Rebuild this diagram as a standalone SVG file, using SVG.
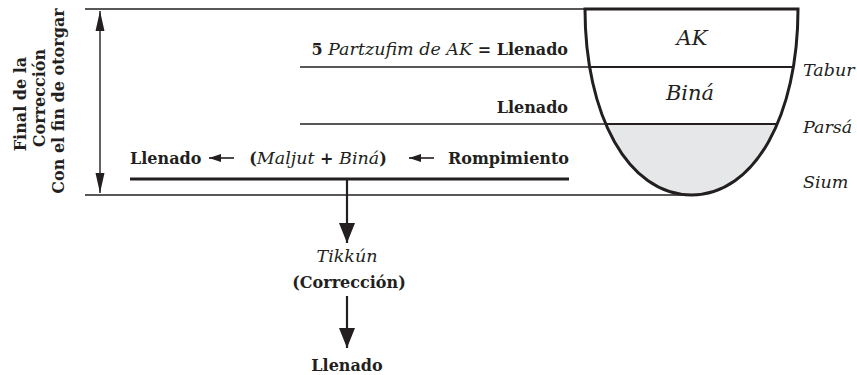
<svg xmlns="http://www.w3.org/2000/svg" width="857" height="375" viewBox="0 0 857 375">
<style>
.t{font-family:"DejaVu Serif","Liberation Serif",serif;fill:#231f20;font-size:16px}
.b{font-weight:bold}
.i{font-style:italic;font-weight:normal;font-size:17.5px}
.thin{stroke:#231f20;stroke-width:1.4;fill:none}
.thick{stroke:#231f20;stroke-width:3;fill:none}
.ah{fill:#231f20}
</style>
<defs>
<marker id="big" markerUnits="userSpaceOnUse" markerWidth="20" markerHeight="18" refX="20" refY="8" orient="auto" viewBox="0 0 20 16">
<path d="M0,0 L20,8 L0,16 Z" class="ah"/>
</marker>
<marker id="mid" markerUnits="userSpaceOnUse" markerWidth="20" markerHeight="10" refX="20" refY="4.5" orient="auto-start-reverse" viewBox="0 0 20 9">
<path d="M0,0 L20,4.5 L0,9 Z" class="ah"/>
</marker>
<marker id="small" markerUnits="userSpaceOnUse" markerWidth="12" markerHeight="9" refX="12" refY="4" orient="auto" viewBox="0 0 12 8">
<path d="M0,0 L12,4 L0,8 Z" class="ah"/>
</marker>
<path id="vesselShape" d="M585,9 L798,9 C798,115 755,195 691.5,195 C628,195 585,115 585,9 Z"/>
<clipPath id="vclip"><use href="#vesselShape"/></clipPath>
</defs>

<g id="reference-lines">
<line x1="85" y1="9" x2="586" y2="9" class="thin"/>
<line x1="85" y1="195" x2="691" y2="195" class="thin"/>
<line x1="300" y1="67" x2="592" y2="67" class="thin"/>
<line x1="300" y1="124" x2="606" y2="124" class="thin"/>
</g>

<g id="vessel">
<use href="#vesselShape" fill="#ffffff"/>
<rect x="580" y="124" width="230" height="75" fill="#e6e7e8" clip-path="url(#vclip)"/>
<line x1="580" y1="67" x2="810" y2="67" stroke="#231f20" stroke-width="2.2" clip-path="url(#vclip)"/>
<line x1="580" y1="124" x2="810" y2="124" stroke="#231f20" stroke-width="2.2" clip-path="url(#vclip)"/>
<use href="#vesselShape" class="thick"/>
<text x="692" y="45" class="t i" style="font-size:21px" text-anchor="middle">AK</text>
<text x="690" y="100" class="t i" style="font-size:21px" text-anchor="middle">Biná</text>
</g>

<g id="level-labels">
<text x="803" y="76" class="t i">Tabur</text>
<text x="803" y="133" class="t i">Parsá</text>
<text x="803" y="188" class="t i">Sium</text>
</g>

<g id="side-label">
<text transform="translate(26,104) rotate(-90)" class="t b" text-anchor="middle">Final de la</text>
<text transform="translate(45,98) rotate(-90)" class="t b" text-anchor="middle">Corrección</text>
<text transform="translate(64,101) rotate(-90)" class="t b" text-anchor="middle">Con el fin de otorgar</text>
</g>

<g id="partzufim">
<text x="568" y="55" class="t b" text-anchor="end">5 <tspan class="i">Partzufim de AK</tspan> = Llenado</text>
</g>
<g id="llenado-bina">
<text x="568" y="113" class="t b" text-anchor="end">Llenado</text>
</g>

<g id="row">
<text x="130" y="164" class="t b">Llenado</text>
<text x="318" y="164" class="t b" text-anchor="middle">(<tspan class="i">Maljut</tspan> + <tspan class="i">Biná</tspan>)</text>
<text x="569" y="164" class="t b" text-anchor="end">Rompimiento</text>
</g>

<g id="tikkun">
<text x="347" y="262" class="t i" text-anchor="middle">Tikkún</text>
<text x="349" y="288" class="t b" text-anchor="middle">(Corrección)</text>
</g>
<g id="llenado-final">
<text x="347" y="371" class="t b" text-anchor="middle">Llenado</text>
</g>

<g id="connectors">
<line x1="100" y1="11" x2="100" y2="193" class="thin" marker-start="url(#mid)" marker-end="url(#mid)"/>
<line x1="130" y1="179" x2="569" y2="179" class="thick"/>
<line x1="347" y1="179" x2="347" y2="243" stroke="#231f20" stroke-width="2.2" marker-end="url(#big)"/>
<line x1="347" y1="296" x2="347" y2="348" stroke="#231f20" stroke-width="2.2" marker-end="url(#big)"/>
<line x1="234" y1="158" x2="209" y2="158" stroke="#231f20" stroke-width="1.6" marker-end="url(#small)"/>
<line x1="434" y1="158" x2="409" y2="158" stroke="#231f20" stroke-width="1.6" marker-end="url(#small)"/>
</g>
</svg>
